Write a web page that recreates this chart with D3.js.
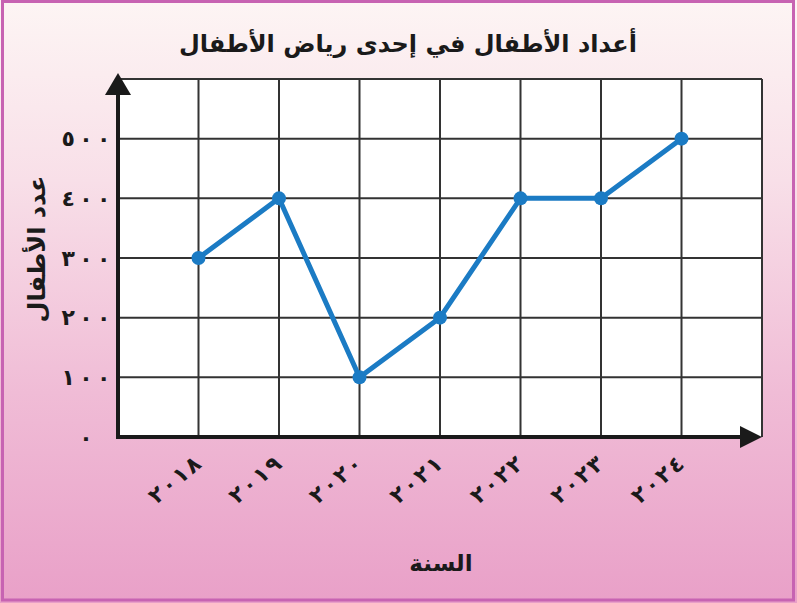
<!DOCTYPE html>
<html><head><meta charset="utf-8">
<script src="https://cdn.jsdelivr.net/npm/d3@7"></script>
<style>html,body{margin:0;padding:0;background:#fff;}svg{display:block;}
.num{unicode-bidi:bidi-override;direction:ltr;}</style>
</head><body>
<svg id="c" width="797" height="603"></svg>
<script>
const years = [2018, 2019, 2020, 2021, 2022, 2023, 2024];
const yearLabels = ["٢٠١٨", "٢٠١٩", "٢٠٢٠", "٢٠٢١", "٢٠٢٢", "٢٠٢٣", "٢٠٢٤"];
const children = [300, 400, 100, 200, 400, 400, 500];
const yTicks = [0, 100, 200, 300, 400, 500];
const yTickLabels = ["٠", "١٠٠", "٢٠٠", "٣٠٠", "٤٠٠", "٥٠٠"];
const gridValues = [100, 200, 300, 400, 500, 600];
const title = "أعداد الأطفال في إحدى رياض الأطفال";
const xTitle = "السنة";
const yTitle = "عدد الأطفال";

const spaced = (s, sep) => Array.from(s).join(sep);

const svg = d3.select("#c");
const defs = svg.append("defs");
const grad = defs.append("linearGradient").attr("id", "bg").attr("x1", 0).attr("y1", 0).attr("x2", 0).attr("y2", 1);
grad.append("stop").attr("offset", "0%").attr("stop-color", "#fdf5f4");
grad.append("stop").attr("offset", "30%").attr("stop-color", "#f8dfe8");
grad.append("stop").attr("offset", "65%").attr("stop-color", "#f0bcd6");
grad.append("stop").attr("offset", "100%").attr("stop-color", "#e9a0c8");

svg.append("rect").attr("x", 0).attr("y", 0).attr("width", 797).attr("height", 603).attr("fill", "url(#bg)");
svg.append("rect").attr("x", 2.5).attr("y", 1.5).attr("width", 791).attr("height", 598.5)
  .attr("fill", "none").attr("stroke", "#c763b2").attr("stroke-width", 3);

const x = d3.scaleLinear().domain([2017, 2025]).range([118, 762]);
const y = d3.scaleLinear().domain([0, 600]).range([437, 79]);

const AR = "'DejaVu Sans', 'Noto Sans', sans-serif";

// plot area
svg.append("rect").attr("x", x(2017)).attr("y", y(600)).attr("width", x(2025) - x(2017)).attr("height", y(0) - y(600)).attr("fill", "#ffffff");

// grid
const grid = svg.append("g").attr("stroke", "#333333").attr("stroke-width", 2);
grid.selectAll("line.v").data(years.concat([2025])).join("line")
  .attr("x1", d => x(d)).attr("x2", d => x(d)).attr("y1", y(0)).attr("y2", y(600));
grid.selectAll("line.h").data(gridValues).enter().append("line")
  .attr("x1", x(2017)).attr("x2", x(2025)).attr("y1", d => y(d)).attr("y2", d => y(d));

// axes with arrows
svg.append("line").attr("x1", x(2017)).attr("x2", x(2025) - 20).attr("y1", y(0)).attr("y2", y(0))
  .attr("stroke", "#1a1a1a").attr("stroke-width", 4);
svg.append("path").attr("d", `M${x(2025) - 22},${y(0) - 11} L${x(2025)},${y(0)} L${x(2025) - 22},${y(0) + 11} Z`).attr("fill", "#1a1a1a");
svg.append("line").attr("x1", x(2017)).attr("x2", x(2017)).attr("y1", y(0) + 2).attr("y2", 94)
  .attr("stroke", "#1a1a1a").attr("stroke-width", 4);
svg.append("path").attr("d", `M${x(2017) - 13},95 L${x(2017)},73 L${x(2017) + 13},95 Z`).attr("fill", "#1a1a1a");

// line
const line = d3.line().x((d, i) => x(years[i])).y(d => y(d));
svg.append("path").datum(children).attr("d", line).attr("fill", "none")
  .attr("stroke", "#1b7bc4").attr("stroke-width", 5).attr("stroke-linejoin", "round");
svg.selectAll("circle.p").data(children).enter().append("circle")
  .attr("cx", (d, i) => x(years[i])).attr("cy", d => y(d)).attr("r", 7).attr("fill", "#1b7bc4");

// y tick labels
svg.selectAll("text.yt").data(yTicks).enter().append("text")
  .attr("class", "num")
  .attr("x", 86).attr("y", d => y(d)).attr("dy", "0.35em")
  .attr("text-anchor", "middle").attr("font-family", AR).attr("font-size", 22).attr("font-weight", "bold")
  .attr("fill", "#1a1a1a")
  .text((d, i) => spaced(yTickLabels[i], "\u2009"));

// x tick labels
svg.selectAll("text.xt").data(years).enter().append("text")
  .attr("class", "num")
  .attr("transform", d => `translate(${x(d) + 4},${466}) rotate(-40)`)
  .attr("text-anchor", "end").attr("font-family", AR).attr("font-size", 22).attr("font-weight", "bold")
  .attr("fill", "#1a1a1a")
  .text((d, i) => spaced(yearLabels[i], "\u200A"));

// titles
svg.append("text").attr("x", 408).attr("y", 52).attr("text-anchor", "middle")
  .attr("font-family", AR).attr("font-size", 24).attr("font-weight", "bold").attr("fill", "#1a1a1a").text(title);
svg.append("text").attr("x", 441).attr("y", 571).attr("text-anchor", "middle")
  .attr("font-family", AR).attr("font-size", 23).attr("font-weight", "bold").attr("fill", "#1a1a1a").text(xTitle);
svg.append("text").attr("transform", "translate(45,249) rotate(-90)").attr("text-anchor", "middle")
  .attr("font-family", AR).attr("font-size", 24).attr("font-weight", "bold").attr("fill", "#1a1a1a").text(yTitle);
</script>
</body></html>
